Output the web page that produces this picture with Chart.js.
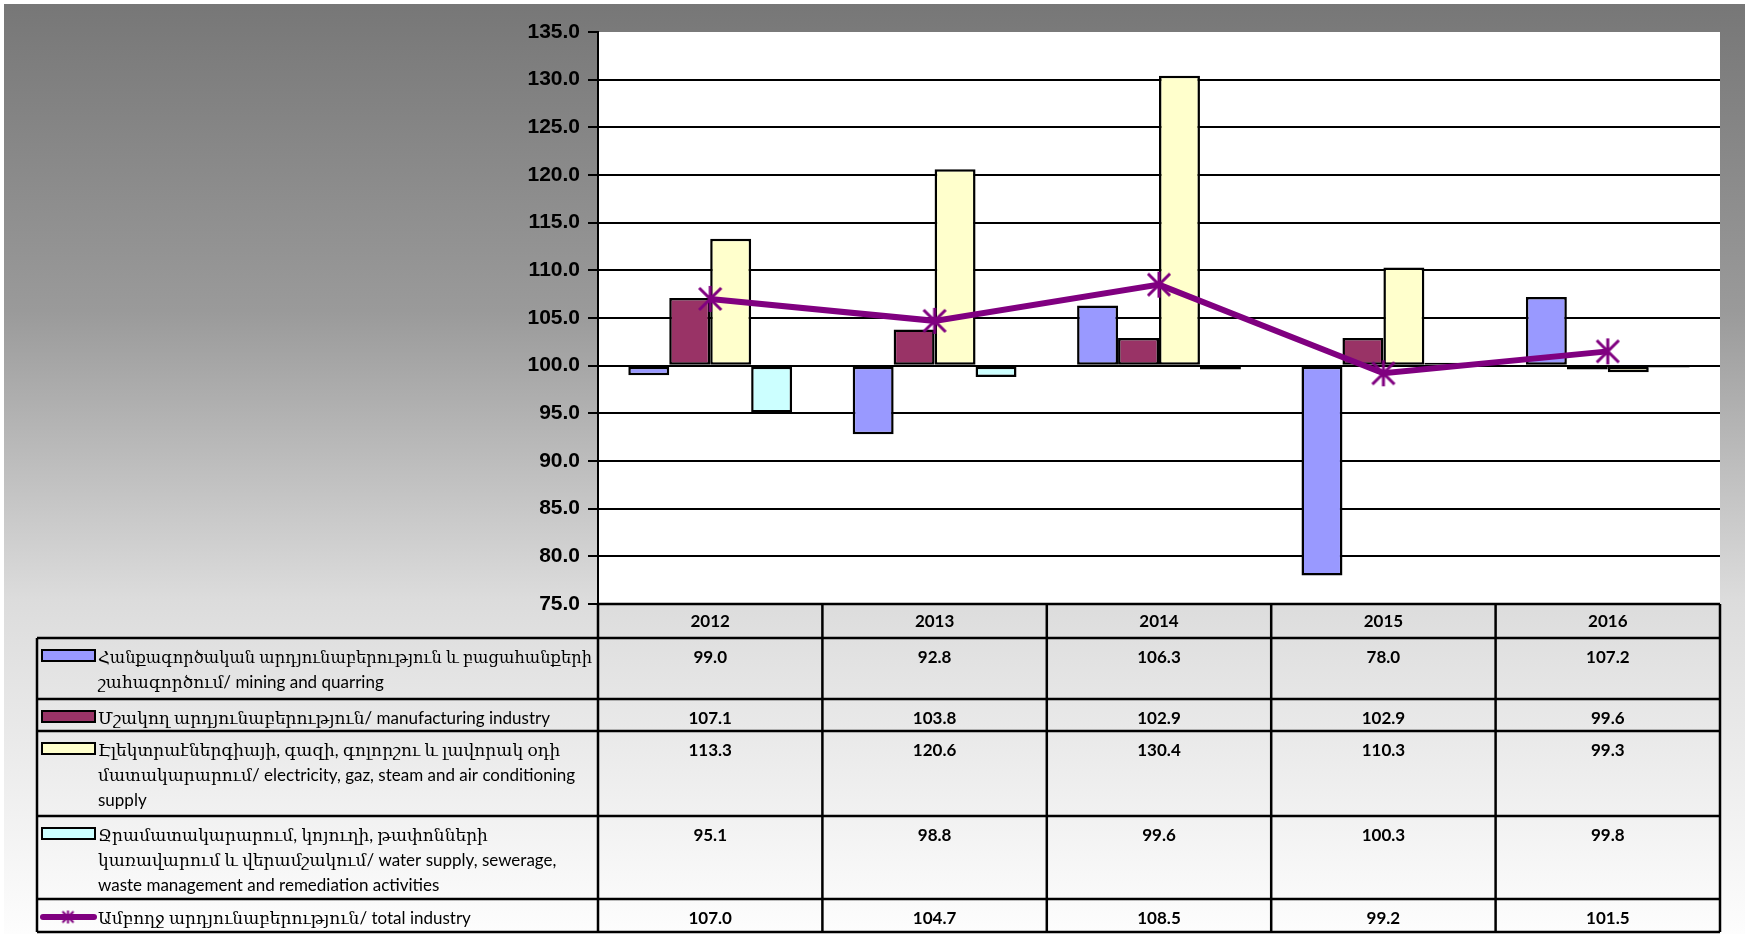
<!DOCTYPE html>
<html>
<head>
<meta charset="utf-8">
<script src="https://cdn.jsdelivr.net/npm/chart.js@4.4.1/dist/chart.umd.min.js"></script>
<style>
  html, body { margin: 0; padding: 0; background: #fff; }
  #wrap { width: 1745px; height: 934px; }
  canvas { display: block; }
</style>
</head>
<body>
<div id="wrap"><canvas id="chart" width="1745" height="934"></canvas></div>
<script>
// years and index values (previous year = 100)
const years = ['2012', '2013', '2014', '2015', '2016'];
const mining = [99.0, 92.8, 106.3, 78.0, 107.2];
const manufacturing = [107.1, 103.8, 102.9, 102.9, 99.6];
const electricity = [113.3, 120.6, 130.4, 110.3, 99.3];
const water = [95.1, 98.8, 99.6, 100.3, 99.8];
const total = [107.0, 104.7, 108.5, 99.2, 101.5];

const yMin = 75, yMax = 135, yStep = 5;

// legend labels, broken into lines like the original
const labelMining = ['Հանքագործական արդյունաբերություն և բացահանքերի', 'շահագործում/ mining and quarring'];
const labelManuf = ['Մշակող արդյունաբերություն/ manufacturing industry'];
const labelElec = ['Էլեկտրաէներգիայի, գազի, գոլորշու և լավորակ օդի', 'մատակարարում/ electricity, gaz, steam and air conditioning', 'supply'];
const labelWater = ['Ջրամատակարարում, կոյուղի, թափոնների', 'կառավարում և վերամշակում/ water supply, sewerage,', 'waste management and remediation activities'];
const labelTotal = ['Ամբողջ արդյունաբերություն/ total industry'];

const PURPLE = '#800080';

// excel-like star marker: vertical stroke + X
function makeStar(size, lw) {
  const c = document.createElement('canvas');
  c.width = c.height = size;
  const g = c.getContext('2d');
  const m = size / 2, r = size / 2 - 1, d = r * 0.85;
  g.strokeStyle = PURPLE;
  g.lineWidth = lw;
  g.beginPath();
  g.moveTo(m, m - r); g.lineTo(m, m + r);
  g.moveTo(m - d, m - d); g.lineTo(m + d, m + d);
  g.moveTo(m + d, m - d); g.lineTo(m - d, m + d);
  g.stroke();
  return c;
}
const bigStar = makeStar(28, 3);
const smallStar = makeStar(15, 2);

// page background + white plot area
const backdrop = {
  id: 'backdrop',
  beforeDraw(chart) {
    const { ctx, width, height, chartArea: a } = chart;
    ctx.save();
    ctx.fillStyle = '#fff';
    ctx.fillRect(0, 0, width, height);
    const gr = ctx.createLinearGradient(0, 4, 0, height);
    gr.addColorStop(0, '#777777');
    gr.addColorStop(0.33, '#9a9a9a');
    gr.addColorStop(0.64, '#dcdcdc');
    gr.addColorStop(1, '#fdfdfd');
    ctx.fillStyle = gr;
    ctx.fillRect(4, 4, width - 4, height - 4);
    ctx.fillStyle = '#fff';
    ctx.fillRect(a.left, a.top, a.right - a.left, a.bottom - a.top);
    ctx.restore();
  }
};

// data table below the plot
const rows = [
  { label: labelMining, values: mining, key: 'bar', color: '#9999FF', h: 61 },
  { label: labelManuf, values: manufacturing, key: 'bar', color: '#993366', h: 32 },
  { label: labelElec, values: electricity, key: 'bar', color: '#FFFFCC', h: 85 },
  { label: labelWater, values: water, key: 'bar', color: '#CCFFFF', h: 83 },
  { label: labelTotal, values: total, key: 'line', color: PURPLE, h: 34 }
];

const dataTable = {
  id: 'dataTable',
  afterDraw(chart) {
    const { ctx, chartArea: a } = chart;
    const xs = chart.scales.x;
    const colW = (a.right - a.left) / years.length;
    const tableLeft = 37;
    const headH = 34;
    let y0 = a.bottom;
    ctx.save();
    ctx.strokeStyle = '#000';
    ctx.lineWidth = 2.5;
    ctx.fillStyle = '#000';
    ctx.textAlign = 'center';
    ctx.textBaseline = 'middle';

    // header with years
    ctx.font = 'bold 17px Lato, "Liberation Sans", sans-serif';
    years.forEach((yr, i) => ctx.fillText(yr, xs.getPixelForValue(i), y0 + headH / 2 + 1));
    ctx.beginPath();
    ctx.moveTo(a.left, y0); ctx.lineTo(a.right, y0);
    ctx.stroke();

    let y = y0 + headH;
    const bottom = y + rows.reduce((s, r) => s + r.h, 0) - 1;

    rows.forEach(r => {
      ctx.beginPath();
      ctx.moveTo(tableLeft, y); ctx.lineTo(a.right, y);
      ctx.stroke();
      const ty = y + 20;

      // legend key
      if (r.key === 'bar') {
        ctx.fillStyle = r.color;
        ctx.fillRect(42, ty - 8, 53, 11);
        ctx.lineWidth = 2;
        ctx.strokeRect(42, ty - 8, 53, 11);
        ctx.lineWidth = 2.5;
      } else {
        ctx.strokeStyle = r.color;
        ctx.lineWidth = 6;
        ctx.lineCap = 'round';
        ctx.beginPath();
        ctx.moveTo(43, ty - 2); ctx.lineTo(94, ty - 2);
        ctx.stroke();
        ctx.lineCap = 'butt';
        ctx.drawImage(smallStar, 68 - 7.5, ty - 2 - 7.5);
        ctx.strokeStyle = '#000';
        ctx.lineWidth = 2.5;
      }

      // label lines
      ctx.fillStyle = '#000';
      ctx.textAlign = 'left';
      ctx.font = '17px Lato, "DejaVu Serif", "DejaVu Sans", sans-serif';
      r.label.forEach((ln, k) => ctx.fillText(ln, 98, ty + k * 25, 494));

      // values
      ctx.textAlign = 'center';
      ctx.font = 'bold 17px Lato, "Liberation Sans", sans-serif';
      r.values.forEach((v, i) => ctx.fillText(v.toFixed(1), xs.getPixelForValue(i), ty));

      y += r.h;
    });

    // bottom + verticals
    ctx.beginPath();
    ctx.moveTo(tableLeft, bottom); ctx.lineTo(a.right, bottom);
    ctx.moveTo(tableLeft, y0 + headH); ctx.lineTo(tableLeft, bottom);
    for (let i = 0; i <= years.length; i++) {
      const cx = a.left + i * colW;
      ctx.moveTo(cx, y0); ctx.lineTo(cx, bottom);
    }
    ctx.stroke();
    ctx.restore();
  }
};

const barDefaults = {
  type: 'bar',
  base: 100,
  borderColor: '#000',
  borderWidth: 2.5,
  borderSkipped: false,
  categoryPercentage: 0.73,
  barPercentage: 1,
  order: 1
};

new Chart(document.getElementById('chart'), {
  type: 'bar',
  data: {
    labels: years,
    datasets: [
      { ...barDefaults, label: labelMining.join(' '), data: mining, backgroundColor: '#9999FF' },
      { ...barDefaults, label: labelManuf.join(' '), data: manufacturing, backgroundColor: '#993366' },
      { ...barDefaults, label: labelElec.join(' '), data: electricity, backgroundColor: '#FFFFCC' },
      { ...barDefaults, label: labelWater.join(' '), data: water, backgroundColor: '#CCFFFF' },
      {
        type: 'line',
        label: labelTotal.join(' '),
        data: total,
        borderColor: PURPLE,
        borderWidth: 6,
        pointStyle: bigStar,
        pointRadius: 14,
        tension: 0,
        order: 0
      }
    ]
  },
  options: {
    responsive: false,
    devicePixelRatio: 1,
    animation: false,
    layout: { padding: { left: 0, top: 32, right: 25, bottom: 330 } },
    plugins: { legend: { display: false }, tooltip: { enabled: false } },
    scales: {
      x: { display: false },
      y: {
        min: yMin,
        max: yMax,
        afterFit(scale) { scale.width = 598; },
        ticks: {
          stepSize: yStep,
          color: '#000',
          padding: 8,
          font: { family: '"Liberation Sans", Arial, sans-serif', size: 21, weight: 'bold' },
          callback: v => Number(v).toFixed(1)
        },
        grid: {
          color: c => (c.tick && c.tick.value === yMax ? 'rgba(0,0,0,0)' : '#000'),
          tickColor: '#000',
          lineWidth: 2,
          tickLength: 10
        },
        border: { color: '#000', width: 2 }
      }
    }
  },
  plugins: [backdrop, dataTable]
});
</script>
</body>
</html>
